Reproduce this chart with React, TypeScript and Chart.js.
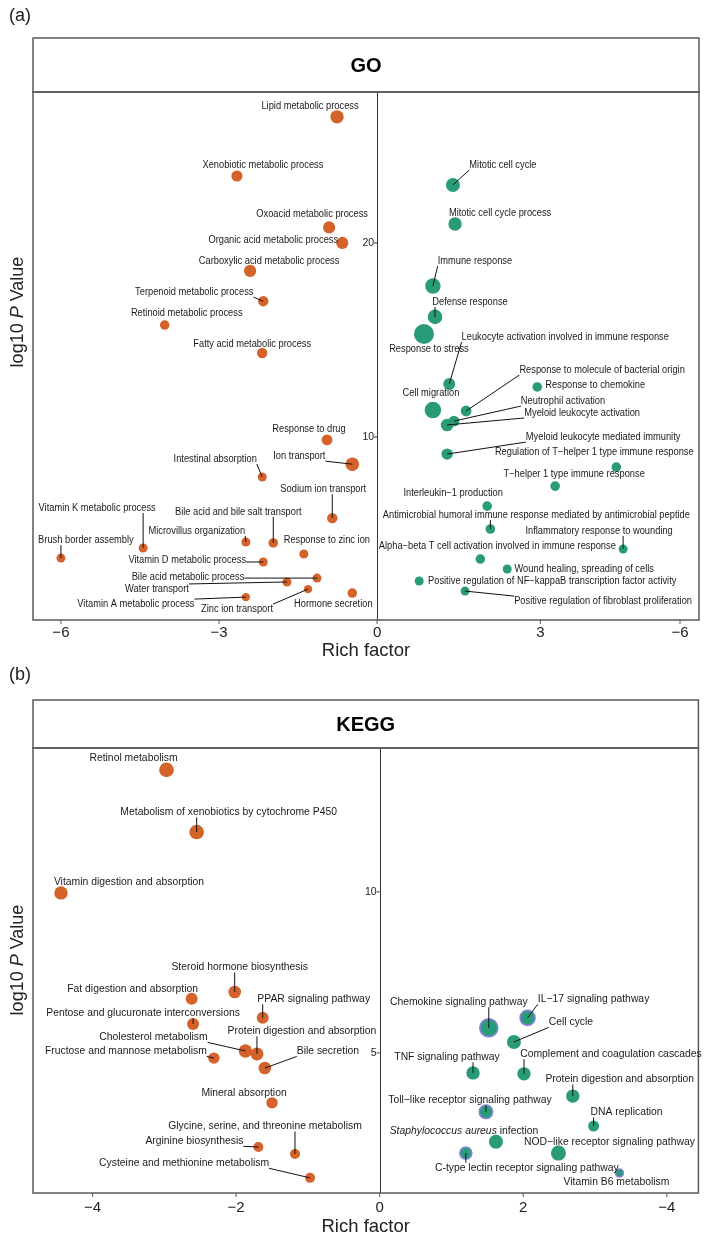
import React, { useEffect, useRef } from "react";
import { Chart, registerables } from "chart.js";
Chart.register(...registerables);

// ---------------- GO : up (orange, left side) ----------------
const GO_UP_TERMS = [
  "Lipid metabolic process", "Xenobiotic metabolic process", "Oxoacid metabolic process",
  "Organic acid metabolic process", "Carboxylic acid metabolic process", "Terpenoid metabolic process",
  "Retinoid metabolic process", "Fatty acid metabolic process", "Response to drug", "Ion transport",
  "Intestinal absorption", "Sodium ion transport", "Bile acid and bile salt transport",
  "Microvillus organization", "Response to zinc ion", "Vitamin K metabolic process",
  "Brush border assembly", "Vitamin D metabolic process", "Bile acid metabolic process",
  "Water transport", "Zinc ion transport", "Vitamin A metabolic process", "Hormone secretion",
];
const GO_UP_RICH = [-0.76, -2.66, -0.91, -0.66, -2.41, -2.16, -4.03, -2.18, -0.95, -0.47, -2.18, -0.85, -1.97, -2.49, -1.39, -4.44, -6.0, -2.16, -1.14, -1.71, -1.31, -2.49, -0.47];
const GO_UP_LOGP = [26.5, 23.45, 20.8, 20.0, 18.56, 17.0, 15.77, 14.33, 9.85, 8.6, 7.94, 5.82, 4.54, 4.59, 3.97, 4.28, 3.76, 3.56, 2.73, 2.53, 2.16, 1.75, 1.96];
const GO_UP_SIZE = [6.7, 5.6, 6.1, 6.1, 6.1, 5.2, 4.8, 5.2, 5.4, 6.8, 4.5, 5.2, 4.8, 4.5, 4.5, 4.5, 4.5, 4.5, 4.5, 4.5, 4.2, 4.2, 4.8];

// ---------------- GO : down (green, right side) ----------------
const GO_DOWN_TERMS = [
  "Mitotic cell cycle", "Mitotic cell cycle process", "Immune response", "Defense response",
  "Response to stress", "Leukocyte activation involved in immune response", "Cell migration",
  "Response to molecule of bacterial origin", "Response to chemokine", "Neutrophil activation",
  "Myeloid leukocyte activation", "Myeloid leukocyte mediated immunity",
  "Regulation of T\u2212helper 1 type immune response", "T\u2212helper 1 type immune response",
  "Interleukin\u22121 production",
  "Antimicrobial humoral immune response mediated by antimicrobial peptide",
  "Inflammatory response to wounding",
  "Alpha\u2212beta T cell activation involved in immune response",
  "Wound healing, spreading of cells",
  "Positive regulation of NF\u2212kappaB transcription factor activity",
  "Positive regulation of fibroblast proliferation",
];
const GO_DOWN_RICH = [1.44, 1.48, 1.06, 1.1, 0.89, 1.37, 1.06, 1.69, 3.04, 1.46, 1.33, 1.33, 4.54, 3.38, 2.09, 2.15, 4.67, 1.96, 2.47, 0.8, 1.67];
const GO_DOWN_LOGP = [22.99, 20.98, 17.78, 16.19, 15.31, 12.73, 11.39, 11.34, 12.58, 10.82, 10.62, 9.12, 8.45, 7.47, 6.44, 5.26, 4.23, 3.71, 3.2, 2.58, 2.06];
const GO_DOWN_SIZE = [7, 6.7, 7.7, 7.3, 10, 6, 8.3, 5.4, 4.8, 5.4, 6.3, 5.7, 4.8, 4.8, 4.8, 4.8, 4.5, 4.8, 4.5, 4.5, 4.5];

// ---------------- KEGG : up (orange, left side) ----------------
const KEGG_UP_TERMS = [
  "Retinol metabolism", "Metabolism of xenobiotics by cytochrome P450", "Vitamin digestion and absorption",
  "Steroid hormone biosynthesis", "Fat digestion and absorption", "PPAR signaling pathway",
  "Pentose and glucuronate interconversions", "Cholesterol metabolism", "Protein digestion and absorption",
  "Fructose and mannose metabolism", "Bile secretion", "Mineral absorption",
  "Glycine, serine, and threonine metabolism", "Arginine biosynthesis", "Cysteine and methionine metabolism",
];
const KEGG_UP_RICH = [-2.97, -2.55, -4.44, -2.02, -2.62, -1.63, -2.6, -1.87, -1.71, -2.31, -1.6, -1.5, -1.18, -1.69, -0.97];
const KEGG_UP_LOGP = [13.79, 11.86, 9.97, 6.89, 6.68, 6.09, 5.9, 5.06, 4.97, 4.84, 4.53, 3.45, 1.86, 2.08, 1.12];
const KEGG_UP_SIZE = [7.3, 7.3, 6.7, 6.3, 6, 6, 6, 6.7, 6.5, 5.7, 6.3, 5.7, 5, 5, 5];

// ---------------- KEGG : down (green, right side) ----------------
const KEGG_DOWN_TERMS = [
  "Chemokine signaling pathway", "IL\u221217 signaling pathway", "Cell cycle", "TNF signaling pathway",
  "Complement and coagulation cascades", "Protein digestion and absorption",
  "Toll\u2212like receptor signaling pathway", "DNA replication", "*Staphylococcus aureus* infection",
  "NOD\u2212like receptor signaling pathway", "C-type lectin receptor signaling pathway", "Vitamin B6 metabolism",
];
const KEGG_DOWN_RICH = [1.52, 2.06, 1.87, 1.3, 2.01, 2.69, 1.48, 2.98, 1.62, 2.49, 1.2, 3.34];
const KEGG_DOWN_LOGP = [5.78, 6.09, 5.34, 4.38, 4.35, 3.66, 3.17, 2.73, 2.24, 1.89, 1.89, 1.27];
const KEGG_DOWN_SIZE = [9, 7.5, 7, 6.7, 6.7, 6.7, 6.7, 5.5, 7, 7.5, 6, 4];
const KEGG_DOWN_OUTLINED = [1, 1, 0, 0, 0, 0, 1, 0, 0, 0, 1, 1];

// ---------------- axis ticks ----------------
const GO_X_TICKS = [-6, -3, 0, 3.1, 5.75];
const GO_X_TICK_LABELS = ["\u22126", "\u22123", "0", "3", "\u22126"];
const GO_Y_TICKS = [10, 20];
const KEGG_X_TICKS = [-4, -2, 0, 2, 4];
const KEGG_X_TICK_LABELS = ["\u22124", "\u22122", "0", "2", "\u22124"];
const KEGG_Y_TICKS = [5, 10];

// ---------------- label layout (pixel offsets of label centre from the point) ----------------
const GO_UP_LABEL_DX = [-27, 26, -17, -69, 19, -69, 22, -10, -18, -53, -47, -9, -35, -49, 23, -46, 25, -76, -129, -130, -71, -110, -19];
const GO_UP_LABEL_DY = [-11, -11, -13, -3, -10, -9, -12, -9, -11, -8, -18, -29, -31, -11, -14, -40, -18, -2, -1, 7, 20, 7, 11];
const GO_UP_SEG = [0, 0, 0, 0, 0, 1, 0, 0, 0, 1, 1, 1, 1, 1, 0, 1, 1, 1, 1, 1, 1, 1, 0];
const GO_DOWN_LABEL_DX = [50, 45, 42, 35, 5, 116, -2, 136, 58, 109, 135, 156, -22, 19, -34, 46, -24, 17, 77, 133, 138];
const GO_DOWN_LABEL_DY = [-20, -11, -25, -15, 15, -47, -17, -41, -2, -20, -12, -17, -15, -12, -13, -14, -18, -13, 0, 0, 10];
const GO_DOWN_SEG = [1, 0, 1, 1, 0, 1, 0, 1, 0, 1, 1, 1, 0, 0, 0, 1, 1, 0, 0, 0, 1];
const KEGG_UP_LABEL_DX = [-33, 32, 68, 5, -59, 51, -50, -92, 45, -88, 63, -28, -30, -64, -126];
const KEGG_UP_LABEL_DY = [-12, -20, -11, -25, -10, -19, -11, -14, -23, -7, -17, -10, -28, -6, -15];
const KEGG_UP_SEG = [0, 1, 0, 1, 0, 1, 1, 1, 1, 1, 1, 0, 1, 1, 1];
const KEGG_DOWN_LABEL_DX = [-30, 66, 57, -26, 87, 47, -16, 33, -32, 51, 61, -3];
const KEGG_DOWN_LABEL_DY = [-26, -19, -20, -16, -20, -17, -12, -14, -11, -11, 15, 9];
const KEGG_DOWN_SEG = [1, 1, 1, 1, 1, 1, 1, 1, 0, 0, 1, 0];

const ORANGE = "#D4622B";
const GREEN = "#2A9B78";
const OUTLINE = "#8484DA";
const FRAME = "#5a5a5a";
const FONT = "'Liberation Sans', Arial, Helvetica, sans-serif";

function fontStr(size: number, italic = false, bold = false) {
  return `${italic ? "italic " : ""}${bold ? "bold " : ""}${size}px ${FONT}`;
}
function richWidth(ctx: CanvasRenderingContext2D, text: string, size: number, hs = 1) {
  let w = 0;
  text.split("*").forEach((p, i) => {
    ctx.font = fontStr(size, i % 2 === 1);
    w += ctx.measureText(p).width;
  });
  return w * hs;
}
function drawRich(ctx: CanvasRenderingContext2D, text: string, x: number, y: number, size: number, hs = 1) {
  ctx.save();
  ctx.translate(x, y);
  ctx.scale(hs, 1);
  let cx = 0;
  text.split("*").forEach((p, i) => {
    ctx.font = fontStr(size, i % 2 === 1);
    ctx.fillText(p, cx, 0);
    cx += ctx.measureText(p).width;
  });
  ctx.restore();
}

type Group = {
  terms: string[]; rich: number[]; logp: number[]; size: number[];
  dx: number[]; dy: number[]; seg: number[]; color: string; outlined?: number[];
};
type PanelCfg = {
  title: string; tag: string; tagY: number; top: number; height: number;
  padding: { top: number; bottom: number; left: number; right: number };
  headerTop: number; yTitleY: number; xTickDy: number; xTitleDy: number;
  xMin: number; xMax: number; yMin: number; yMax: number;
  xTicks: number[]; xTickLabels: string[]; yTicks: number[];
  labelSize: number; labelScale: number; groups: Group[];
};

const PANELS: PanelCfg[] = [
  {
    title: "GO", tag: "(a)", tagY: 16, top: 0, height: 670,
    padding: { top: 92, bottom: 50, left: 33, right: 10 },
    headerTop: 38, yTitleY: 312, xTickDy: 13, xTitleDy: 31,
    xMin: -6.53, xMax: 6.11, yMin: 0.57, yMax: 27.78,
    xTicks: GO_X_TICKS, xTickLabels: GO_X_TICK_LABELS, yTicks: GO_Y_TICKS,
    labelSize: 10, labelScale: 0.93,
    groups: [
      { terms: GO_UP_TERMS, rich: GO_UP_RICH, logp: GO_UP_LOGP, size: GO_UP_SIZE, dx: GO_UP_LABEL_DX, dy: GO_UP_LABEL_DY, seg: GO_UP_SEG, color: ORANGE },
      { terms: GO_DOWN_TERMS, rich: GO_DOWN_RICH, logp: GO_DOWN_LOGP, size: GO_DOWN_SIZE, dx: GO_DOWN_LABEL_DX, dy: GO_DOWN_LABEL_DY, seg: GO_DOWN_SEG, color: GREEN },
    ],
  },
  {
    title: "KEGG", tag: "(b)", tagY: 20, top: 655, height: 582,
    padding: { top: 93, bottom: 44, left: 33, right: 10 },
    headerTop: 45, yTitleY: 305, xTickDy: 15, xTitleDy: 34,
    xMin: -4.83, xMax: 4.44, yMin: 0.65, yMax: 14.47,
    xTicks: KEGG_X_TICKS, xTickLabels: KEGG_X_TICK_LABELS, yTicks: KEGG_Y_TICKS,
    labelSize: 10.8, labelScale: 0.96,
    groups: [
      { terms: KEGG_UP_TERMS, rich: KEGG_UP_RICH, logp: KEGG_UP_LOGP, size: KEGG_UP_SIZE, dx: KEGG_UP_LABEL_DX, dy: KEGG_UP_LABEL_DY, seg: KEGG_UP_SEG, color: ORANGE },
      { terms: KEGG_DOWN_TERMS, rich: KEGG_DOWN_RICH, logp: KEGG_DOWN_LOGP, size: KEGG_DOWN_SIZE, dx: KEGG_DOWN_LABEL_DX, dy: KEGG_DOWN_LABEL_DY, seg: KEGG_DOWN_SEG, color: GREEN, outlined: KEGG_DOWN_OUTLINED },
    ],
  },
];

function buildChart(canvas: HTMLCanvasElement, cfg: PanelCfg) {
  const datasets = cfg.groups.map((g) => ({
    label: g.color,
    data: g.rich.map((x, i) => ({ x, y: g.logp[i], r: g.size[i] })),
    backgroundColor: g.color,
    borderColor: g.rich.map((_, i) => (g.outlined && g.outlined[i] ? OUTLINE : g.color)),
    borderWidth: g.rich.map((_, i) => (g.outlined && g.outlined[i] ? 1.6 : 0)),
    hoverRadius: 0,
  }));

  const decor = {
    id: "decor",
    beforeDatasetsDraw(chart: any) {
      const ctx: CanvasRenderingContext2D = chart.ctx;
      const { top, bottom } = chart.chartArea;
      const x0 = chart.scales.x.getPixelForValue(0);
      ctx.save();
      ctx.strokeStyle = "#333";
      ctx.lineWidth = 1;
      ctx.beginPath();
      ctx.moveTo(Math.round(x0) + 0.5, top);
      ctx.lineTo(Math.round(x0) + 0.5, bottom);
      ctx.stroke();
      ctx.restore();
    },
    afterDatasetsDraw(chart: any) {
      const ctx: CanvasRenderingContext2D = chart.ctx;
      const { left, right, top, bottom } = chart.chartArea;
      const xs = chart.scales.x;
      const ys = chart.scales.y;
      const x0 = xs.getPixelForValue(0);
      ctx.save();
      // frames
      ctx.strokeStyle = FRAME;
      ctx.lineWidth = 1.5;
      ctx.strokeRect(left, cfg.headerTop, right - left, top - cfg.headerTop);
      ctx.strokeRect(left, top, right - left, bottom - top);
      // header title
      ctx.fillStyle = "#000";
      ctx.textAlign = "center";
      ctx.textBaseline = "middle";
      ctx.font = fontStr(20, false, true);
      ctx.fillText(cfg.title, (left + right) / 2, (cfg.headerTop + top) / 2 + 1);
      // panel tag
      ctx.textAlign = "left";
      ctx.font = fontStr(18);
      ctx.fillStyle = "#222";
      ctx.fillText(cfg.tag, 9, cfg.tagY);
      // x ticks
      ctx.strokeStyle = FRAME;
      ctx.lineWidth = 1;
      ctx.font = fontStr(15);
      ctx.textAlign = "center";
      ctx.fillStyle = "#222";
      cfg.xTicks.forEach((v, i) => {
        const px = xs.getPixelForValue(v);
        ctx.beginPath();
        ctx.moveTo(px, bottom);
        ctx.lineTo(px, bottom + 4);
        ctx.stroke();
        ctx.fillText(cfg.xTickLabels[i], px, bottom + cfg.xTickDy);
      });
      // x title
      ctx.font = fontStr(18.5);
      ctx.fillText("Rich factor", (left + right) / 2, bottom + cfg.xTitleDy);
      // y ticks at the centre line
      ctx.font = fontStr(10.5);
      ctx.textAlign = "right";
      ctx.strokeStyle = "#333";
      cfg.yTicks.forEach((v) => {
        const py = ys.getPixelForValue(v);
        ctx.beginPath();
        ctx.moveTo(x0 - 3, py);
        ctx.lineTo(x0, py);
        ctx.stroke();
        ctx.fillText(String(v), x0 - 3, py);
      });
      // y title (rotated, italic P)
      ctx.save();
      ctx.translate(18, cfg.yTitleY);
      ctx.rotate(-Math.PI / 2);
      const yt = "log10 *P* Value";
      const w = richWidth(ctx, yt, 18);
      ctx.textAlign = "left";
      drawRich(ctx, yt, -w / 2, 0, 18);
      ctx.restore();
      // point labels with leader segments
      ctx.textAlign = "left";
      ctx.textBaseline = "middle";
      cfg.groups.forEach((g) => {
        g.terms.forEach((term, i) => {
          const px = xs.getPixelForValue(g.rich[i]);
          const py = ys.getPixelForValue(g.logp[i]);
          const cx = px + g.dx[i];
          const cy = py + g.dy[i];
          const tw = richWidth(ctx, term, cfg.labelSize, cfg.labelScale);
          const h = cfg.labelSize;
          if (g.seg[i]) {
            const bx = Math.min(Math.max(px, cx - tw / 2), cx + tw / 2);
            const by = Math.min(Math.max(py, cy - h / 2), cy + h / 2);
            ctx.strokeStyle = "#111";
            ctx.lineWidth = 1;
            ctx.beginPath();
            ctx.moveTo(bx, by);
            ctx.lineTo(px, py);
            ctx.stroke();
          }
          ctx.fillStyle = "#1a1a1a";
          drawRich(ctx, term, cx - tw / 2, cy, cfg.labelSize, cfg.labelScale);
        });
      });
      ctx.restore();
    },
  };

  return new Chart(canvas, {
    type: "bubble",
    data: { datasets } as any,
    options: {
      responsive: false,
      animation: false,
      devicePixelRatio: 1,
      layout: { padding: cfg.padding },
      plugins: { legend: { display: false }, tooltip: { enabled: false } },
      events: [],
      scales: {
        x: { type: "linear", min: cfg.xMin, max: cfg.xMax, display: false },
        y: { type: "linear", min: cfg.yMin, max: cfg.yMax, display: false },
      },
    } as any,
    plugins: [decor],
  });
}

function Panel({ cfg }: { cfg: PanelCfg }) {
  const ref = useRef<HTMLCanvasElement | null>(null);
  useEffect(() => {
    if (!ref.current) return;
    const chart = buildChart(ref.current, cfg);
    return () => chart.destroy();
  }, [cfg]);
  return (
    <canvas
      ref={ref}
      width={709}
      height={cfg.height}
      style={{ position: "absolute", left: 0, top: cfg.top, width: 709, height: cfg.height }}
    />
  );
}

export default function App() {
  return (
    <div style={{ position: "absolute", left: 0, top: 0, width: 709, height: 1237, background: "#fff" }}>
      {PANELS.map((p) => (
        <Panel key={p.title} cfg={p} />
      ))}
    </div>
  );
}
